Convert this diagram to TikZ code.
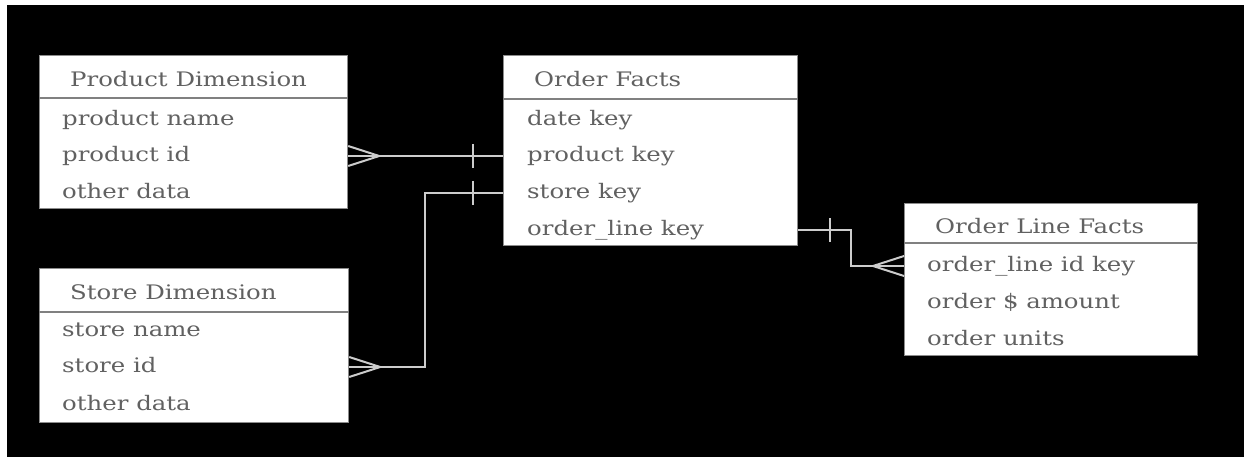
\documentclass[tikz,border=0pt]{standalone}
\usepackage{fontspec}
\setmainfont{DejaVu Serif}[FakeStretch=1.22]

\begin{document}
\begin{tikzpicture}[
  x=1pt, y=-1pt,
  font=\fontsize{20}{24}\selectfont,
  tbl/.style={draw=black!45, line width=1.2pt, fill=white, anchor=north west, inner sep=0pt},
  title/.style={anchor=west, text=black!62, inner sep=0pt, text height=15pt, text depth=4pt},
  row/.style={anchor=west, text=black!62, inner sep=0pt, text height=15pt, text depth=4pt},
  sep/.style={draw=black!50, line width=1.6pt},
  link/.style={draw=black!20, line width=2pt}
]
  \useasboundingbox (0,0) rectangle (1244,457);
  \fill[white] (0,0) rectangle (1244,457);
  \fill[black] (7,5) rectangle (1244,457);

  % product dimension
  \node[tbl, minimum width=308, minimum height=153] (prod) at (39,55) {};
  \draw[sep] ([yshift=-43pt]prod.north west) -- ([yshift=-43pt]prod.north east);
  \node[title] (prodtitle) at (70,81) {Product Dimension};
  \node[row] (prodname) at (62,120) {product name};
  \node[row] (prodid) at (62,156) {product id};
  \node[row] (proddata) at (62,193) {other data};

  % order facts
  \node[tbl, minimum width=294, minimum height=190] (facts) at (503,55) {};
  \draw[sep] ([yshift=-44pt]facts.north west) -- ([yshift=-44pt]facts.north east);
  \node[title] (factstitle) at (534,81) {Order Facts};
  \node[row] (datekey) at (527,120) {date key};
  \node[row] (prodkey) at (527,156) {product key};
  \node[row] (storekey) at (527,193) {store key};
  \node[row] (linekey) at (527,230) {order\_line key};

  % store dimension
  \node[tbl, minimum width=309, minimum height=154] (store) at (39,268) {};
  \draw[sep] ([yshift=-44pt]store.north west) -- ([yshift=-44pt]store.north east);
  \node[title] (storetitle) at (70,294) {Store Dimension};
  \node[row] (storename) at (62,331) {store name};
  \node[row] (storeid) at (62,367) {store id};
  \node[row] (storedata) at (62,405) {other data};

  % order line facts
  \node[tbl, minimum width=293, minimum height=152] (lines) at (904,203) {};
  \draw[sep] ([yshift=-40pt]lines.north west) -- ([yshift=-40pt]lines.north east);
  \node[title] (linestitle) at (935,228) {Order Line Facts};
  \node[row] (lineid) at (927,266) {order\_line id key};
  \node[row] (amount) at (927,303) {order \$ amount};
  \node[row] (units) at (927,340) {order units};

  % links
  \draw[link] (prod.east |- prodid) -- (facts.west |- prodkey);
  \draw[link] (prod.east |- prodid) ++(0,-10) -- ++(31,10) -- ++(-31,10);
  \draw[link] (facts.west |- prodkey) ++(-30,-12) -- ++(0,24);

  \draw[link] (facts.west |- storekey) -- ++(-78,0) |- (store.east |- storeid);
  \draw[link] (store.east |- storeid) ++(0,-10) -- ++(31,10) -- ++(-31,10);
  \draw[link] (facts.west |- storekey) ++(-30,-12) -- ++(0,24);

  \draw[link] (facts.east |- linekey) -- ++(53,0) |- (lines.west |- lineid);
  \draw[link] (lines.west |- lineid) ++(0,-10) -- ++(-31,10) -- ++(31,10);
  \draw[link] (facts.east |- linekey) ++(32,-12) -- ++(0,24);
\end{tikzpicture}
\end{document}
